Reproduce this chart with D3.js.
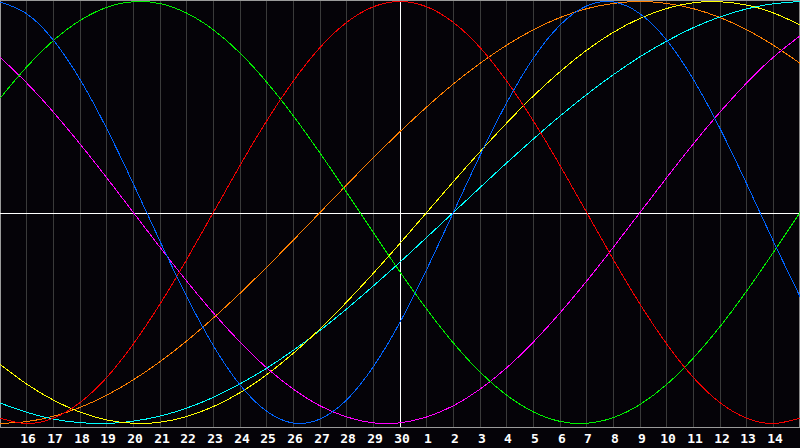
<!DOCTYPE html>
<html><head><meta charset="utf-8">
<script src="https://cdn.jsdelivr.net/npm/d3@7"></script>
<style>body{margin:0;background:#050308;}svg{display:block;}</style></head>
<body><svg width="800" height="448"></svg>
<script>
// Day labels (day index 0 = 15th of previous month, 30 = 15th of this month)
const dayLabels = [15,16,17,18,19,20,21,22,23,24,25,26,27,28,29,30,1,2,3,4,5,6,7,8,9,10,11,12,13,14,15];
const todayIndex = 15;

// Cycle values for each day
const physical = [0.998,0.942,0.817,0.631,0.398,0.136,-0.136,-0.398,-0.631,-0.817,-0.942,-0.998,-0.979,-0.888,-0.731,-0.520,-0.270,0,0.270,0.520,0.731,0.888,0.979,0.998,0.942,0.817,0.631,0.398,0.136,-0.136,-0.398];
const emotional = [-0.975,-1,-0.975,-0.901,-0.782,-0.623,-0.434,-0.223,0,0.223,0.434,0.623,0.782,0.901,0.975,1,0.975,0.901,0.782,0.623,0.434,0.223,0,-0.223,-0.434,-0.623,-0.782,-0.901,-0.975,-1,-0.975];
const intellectual = [0.541,0.690,0.815,0.910,0.972,0.999,0.990,0.945,0.866,0.756,0.618,0.458,0.282,0.095,-0.095,-0.282,-0.458,-0.618,-0.756,-0.866,-0.945,-0.990,-0.999,-0.972,-0.910,-0.815,-0.690,-0.541,-0.372,-0.189,0];
const intuitive = [0.736,0.614,0.476,0.325,0.165,0,-0.165,-0.325,-0.476,-0.614,-0.736,-0.837,-0.916,-0.969,-0.997,-0.997,-0.969,-0.916,-0.837,-0.736,-0.614,-0.476,-0.325,-0.165,0,0.165,0.325,0.476,0.614,0.736,0.837];
const aesthetic = [-0.720,-0.813,-0.889,-0.946,-0.983,-0.999,-0.994,-0.967,-0.920,-0.854,-0.769,-0.667,-0.552,-0.424,-0.288,-0.146,0,0.146,0.288,0.424,0.552,0.667,0.769,0.854,0.920,0.967,0.994,0.999,0.983,0.946,0.889];
const awareness = [-1,-0.991,-0.966,-0.924,-0.866,-0.793,-0.707,-0.609,-0.500,-0.383,-0.259,-0.131,0,0.131,0.259,0.383,0.500,0.609,0.707,0.793,0.866,0.924,0.966,0.991,1,0.991,0.966,0.924,0.866,0.793,0.707];
const spiritual = [-0.903,-0.947,-0.979,-0.996,-1,-0.989,-0.965,-0.927,-0.876,-0.812,-0.738,-0.653,-0.559,-0.457,-0.348,-0.235,-0.118,0,0.118,0.235,0.348,0.457,0.559,0.653,0.738,0.812,0.876,0.927,0.965,0.989,1];

const seriesNames = ["awareness","spiritual","aesthetic","intuitive","intellectual","emotional","physical"];
const seriesData = {physical, emotional, intellectual, intuitive, aesthetic, awareness, spiritual};
const seriesColors = {physical:"#0064ff", emotional:"#f00000", intellectual:"#00f000", intuitive:"#ff00ff", aesthetic:"#ffff00", awareness:"#ff8000", spiritual:"#00ffff"};

const W = 800, H = 448;
const svg = d3.select("svg");
svg.append("rect").attr("width",W).attr("height",H).attr("fill","#050308");

const x = d3.scaleLinear().domain([0,30]).range([0,800]);
const y = d3.scaleLinear().domain([-1,1]).range([423.5,1.5]);
const px = i => Math.floor(x(i)) + 0.5;

// vertical day grid
const gridIdx = d3.range(1,31);
svg.append("g").selectAll("line").data(gridIdx).join("line")
  .attr("x1", d => d===30 ? 799.5 : px(d)).attr("x2", d => d===30 ? 799.5 : px(d))
  .attr("y1",0).attr("y2",427)
  .attr("stroke", d => d===todayIndex ? "#ffffff" : (d===30 ? "#8a8a8a" : "#3a3a3a"))
  .attr("shape-rendering","crispEdges");

// frame
const frame = svg.append("g").attr("stroke","#9a9a9a").attr("shape-rendering","crispEdges");
frame.append("line").attr("x1",0).attr("x2",800).attr("y1",0.5).attr("y2",0.5);
frame.append("line").attr("x1",0.5).attr("x2",0.5).attr("y1",0).attr("y2",428);
frame.append("line").attr("x1",0).attr("x2",800).attr("y1",427.5).attr("y2",427.5);

// zero line
svg.append("line").attr("x1",0).attr("x2",800).attr("y1",213.5).attr("y2",213.5)
  .attr("stroke","#ffffff").attr("shape-rendering","crispEdges");

// curves
const line = d3.line().x((d,i)=>x(i)).y(d=>y(d)).curve(d3.curveNatural);
svg.append("g").selectAll("path").data(seriesNames).join("path")
  .attr("d", n => line(seriesData[n]))
  .attr("fill","none").attr("stroke", n => seriesColors[n]).attr("stroke-width",1)
  .attr("shape-rendering","crispEdges");

// x axis labels
const axis = d3.axisBottom(x).tickValues(d3.range(1,30)).tickFormat(i => dayLabels[i]).tickSize(0).tickPadding(0);
const ag = svg.append("g").attr("transform","translate(0,434)").call(axis);
ag.select(".domain").remove();
ag.selectAll("text").attr("fill","#ffffff").attr("font-family","DejaVu Sans Mono")
  .attr("font-weight","bold").attr("font-size",13).attr("dy","0.71em")
  .attr("x", function(i){ return Math.floor(x(i)) + 0.5 - x(i) + 1; });
</script></body></html>
